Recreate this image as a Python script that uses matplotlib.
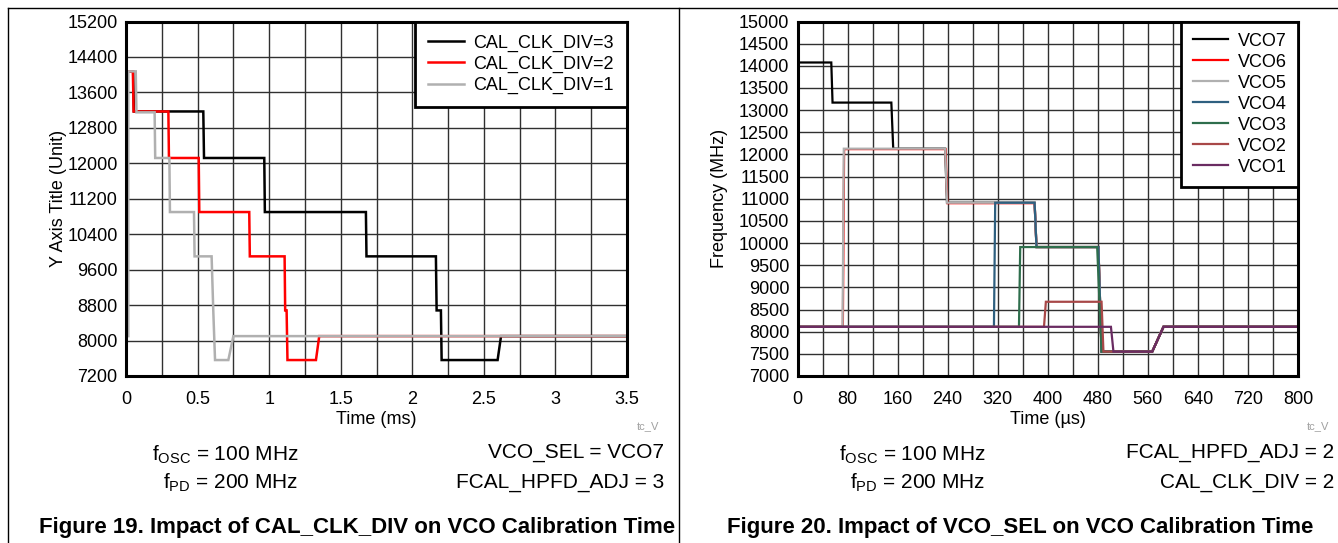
import matplotlib
matplotlib.use("Agg")
import matplotlib.pyplot as plt
from matplotlib.lines import Line2D
import numpy as np

plt.rcParams['font.family'] = ['Liberation Sans', 'DejaVu Sans']
plt.rcParams['mathtext.default'] = 'regular'

# ---------------- Data: Figure 19 ----------------
div3_t = [0.015, 0.05, 0.055, 0.54, 0.545, 0.966, 0.97, 1.676, 1.68, 2.165, 2.17, 2.2, 2.205, 2.596, 2.62, 3.5]
div3_f = [14075, 14075, 13170, 13170, 12120, 12120, 10900, 10900, 9900, 9900, 8680, 8680, 7560, 7560, 8100, 8100]

div2_t = [0.015, 0.048, 0.053, 0.296, 0.3, 0.508, 0.512, 0.861, 0.865, 1.108, 1.112, 1.122, 1.128, 1.327, 1.35, 3.5]
div2_f = [14075, 14075, 13170, 13170, 12120, 12120, 10900, 10900, 9900, 9900, 8680, 8680, 7560, 7560, 8100, 8100]

div1_t = [0.016, 0.016, 0.068, 0.073, 0.2, 0.204, 0.303, 0.307, 0.475, 0.479, 0.598, 0.61, 0.622, 0.715, 0.75, 3.5]
div1_f = [8100, 14075, 14075, 13150, 13150, 12120, 12120, 10900, 10900, 9900, 9900, 8650, 7560, 7560, 8100, 8100]

fig19_labels = ['CAL_CLK_DIV=3', 'CAL_CLK_DIV=2', 'CAL_CLK_DIV=1']
fig19_colors = ['#000000', '#ff0000', '#b0b0b0']

x1_ticks = [0, 0.5, 1, 1.5, 2, 2.5, 3, 3.5]
x1_tick_labels = ['0', '0.5', '1', '1.5', '2', '2.5', '3', '3.5']
y1_ticks = [7200, 8000, 8800, 9600, 10400, 11200, 12000, 12800, 13600, 14400, 15200]

# ---------------- Data: Figure 20 ----------------
vco7_t = [0, 54, 56, 150, 153, 236, 239, 379, 382, 481, 486, 567, 585, 800]
vco7_f = [14075, 14075, 13170, 13170, 12130, 12130, 10910, 10910, 9910, 9910, 7550, 7550, 8110, 8110]

vco6_t = [0, 72.5, 74.5, 236.5, 239.5, 379, 382, 481, 486, 567, 585, 800]
vco6_f = [8110, 8110, 12120, 12120, 10900, 10900, 9910, 9910, 7550, 7550, 8110, 8110]

vco5_t = [0, 72, 74, 236, 239, 379, 382, 481, 486, 567, 585, 800]
vco5_f = [8110, 8110, 12130, 12130, 10910, 10910, 9910, 9910, 7550, 7550, 8110, 8110]

vco4_t = [0, 314, 316, 379, 382, 481, 486, 567, 585, 800]
vco4_f = [8110, 8110, 10910, 10910, 9910, 9910, 7550, 7550, 8110, 8110]

vco3_t = [0, 354, 356, 479, 486, 567, 585, 800]
vco3_f = [8110, 8110, 9910, 9910, 7550, 7550, 8110, 8110]

vco2_t = [0, 394, 397, 486, 489, 567, 585, 800]
vco2_f = [8110, 8110, 8675, 8675, 7550, 7550, 8110, 8110]

vco1_t = [0, 501, 505, 567, 585, 800]
vco1_f = [8110, 8110, 7550, 7550, 8110, 8110]

fig20_labels = ['VCO7', 'VCO6', 'VCO5', 'VCO4', 'VCO3', 'VCO2', 'VCO1']
fig20_colors = ['#000000', '#ff0000', '#b0b0b0', '#2f6080', '#2e6e4c', '#a84848', '#6a2c62']

x2_ticks = [0, 80, 160, 240, 320, 400, 480, 560, 640, 720, 800]
y2_ticks = list(range(7000, 15001, 500))

# ---------------- Figure ----------------
W, H = 1338, 543
fig = plt.figure(figsize=(W / 100, H / 100), dpi=100)


def rect(x0, y0, x1, y1):
    return [x0 / W, 1 - y1 / H, (x1 - x0) / W, (y1 - y0) / H]


def fx(x):
    return x / W


def fy(y):
    return 1 - y / H


TICK_FS = 13
LEG_FS = 13
GRID_C = '#303030'

# ---- left axes ----
ax1 = fig.add_axes(rect(126, 21.5, 627, 376))
for t, f, lab, c in zip([div3_t, div2_t, div1_t], [div3_f, div2_f, div1_f], fig19_labels, fig19_colors):
    ax1.plot(t, f, color=c, lw=1.8, label=lab, solid_joinstyle='miter')
ax1.set_xlim(0, 3.5)
ax1.set_ylim(7200, 15200)
ax1.set_xticks(x1_ticks)
ax1.set_xticklabels(x1_tick_labels)
ax1.set_xticks(np.arange(0, 3.51, 0.25), minor=True)
ax1.set_yticks(y1_ticks)
ax1.set_yticklabels([str(v) for v in y1_ticks])
ax1.grid(which='both', color=GRID_C, lw=1.0)
ax1.set_axisbelow(True)
ax1.set_xlabel('Time (ms)', fontsize=TICK_FS, labelpad=2)
ax1.set_ylabel('Y Axis Title (Unit)', fontsize=TICK_FS, labelpad=0)
leg1 = ax1.legend(loc='upper right', fontsize=LEG_FS, borderaxespad=0, fancybox=False,
                  edgecolor='black', framealpha=1, handlelength=1.95, labelspacing=0.22,
                  handletextpad=0.55, borderpad=0.72)
leg1.get_frame().set_linewidth(2)

# ---- right axes ----
ax2 = fig.add_axes(rect(797.5, 21.5, 1298, 376))
series20 = [(vco7_t, vco7_f), (vco6_t, vco6_f), (vco5_t, vco5_f), (vco4_t, vco4_f),
            (vco3_t, vco3_f), (vco2_t, vco2_f), (vco1_t, vco1_f)]
for (t, f), lab, c in zip(series20, fig20_labels, fig20_colors):
    ax2.plot(t, f, color=c, lw=1.6, label=lab, solid_joinstyle='miter')
ax2.set_xlim(0, 800)
ax2.set_ylim(7000, 15000)
ax2.set_xticks(x2_ticks)
ax2.set_xticklabels([str(v) for v in x2_ticks])
ax2.set_xticks(np.arange(0, 801, 40), minor=True)
ax2.set_yticks(y2_ticks)
ax2.set_yticklabels([str(v) for v in y2_ticks])
ax2.grid(which='both', color=GRID_C, lw=1.0)
ax2.set_axisbelow(True)
ax2.set_xlabel('Time (\u00b5s)', fontsize=TICK_FS, labelpad=2)
ax2.set_ylabel('Frequency (MHz)', fontsize=TICK_FS, labelpad=8)
leg2 = ax2.legend(loc='upper right', fontsize=LEG_FS, borderaxespad=0, fancybox=False,
                  edgecolor='black', framealpha=1, handlelength=1.95, labelspacing=0.22,
                  handletextpad=0.55, borderpad=0.62)
leg2.get_frame().set_linewidth(2)

for ax in (ax1, ax2):
    for s in ax.spines.values():
        s.set_linewidth(2.2)
        s.set_color('black')
    ax.tick_params(which='both', length=0, labelsize=TICK_FS)
    ax.tick_params(axis='x', pad=11)
    ax.tick_params(axis='y', pad=6)

# ---- frame lines ----
LC = 'black'
fig.add_artist(Line2D([fx(8), fx(W)], [fy(8), fy(8)], color=LC, lw=1.0, transform=fig.transFigure))
fig.add_artist(Line2D([fx(8), fx(8)], [fy(8), fy(H)], color=LC, lw=1.0, transform=fig.transFigure))
fig.add_artist(Line2D([fx(679), fx(679)], [fy(8), fy(H)], color=LC, lw=1.0, transform=fig.transFigure))

# ---- annotations ----
ANN_FS = 15
fig.text(fx(648), fy(426), 'tc_V', fontsize=8, color='#a0a0a0', ha='center', va='center')
fig.text(fx(1318), fy(426), 'tc_V', fontsize=8, color='#a0a0a0', ha='center', va='center')

fig.text(fx(298), fy(455), 'f$_{OSC}$ = 100 MHz', fontsize=ANN_FS, ha='right', va='center')
fig.text(fx(298), fy(483), 'f$_{PD}$ = 200 MHz', fontsize=ANN_FS, ha='right', va='center')
fig.text(fx(664), fy(453), 'VCO_SEL = VCO7', fontsize=ANN_FS, ha='right', va='center')
fig.text(fx(664), fy(483), 'FCAL_HPFD_ADJ = 3', fontsize=ANN_FS, ha='right', va='center')

fig.text(fx(985), fy(455), 'f$_{OSC}$ = 100 MHz', fontsize=ANN_FS, ha='right', va='center')
fig.text(fx(985), fy(483), 'f$_{PD}$ = 200 MHz', fontsize=ANN_FS, ha='right', va='center')
fig.text(fx(1334), fy(453), 'FCAL_HPFD_ADJ = 2', fontsize=ANN_FS, ha='right', va='center')
fig.text(fx(1334), fy(483), 'CAL_CLK_DIV = 2', fontsize=ANN_FS, ha='right', va='center')

fig.text(fx(357), fy(527), 'Figure 19. Impact of CAL_CLK_DIV on VCO Calibration Time',
         fontsize=16, fontweight='bold', ha='center', va='center')
fig.text(fx(1020), fy(527), 'Figure 20. Impact of VCO_SEL on VCO Calibration Time',
         fontsize=16, fontweight='bold', ha='center', va='center')

fig.savefig('out.png', dpi=100)
